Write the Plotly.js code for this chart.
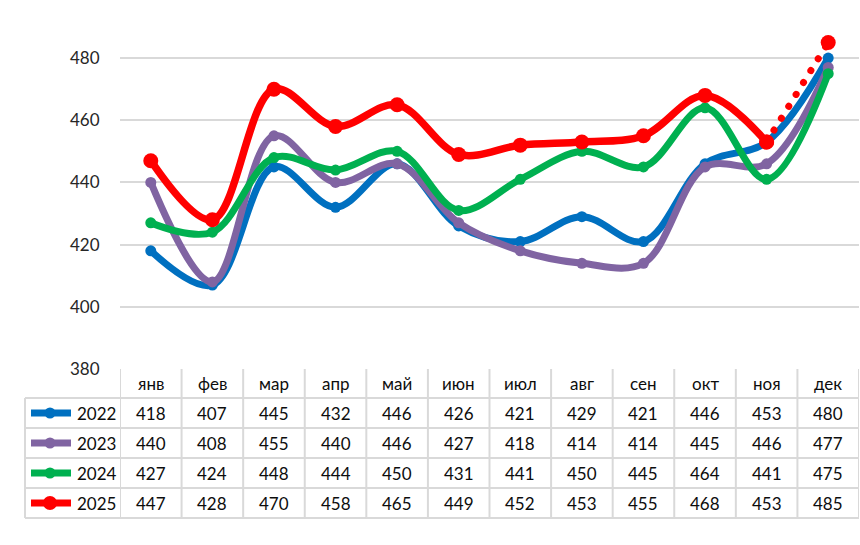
<!DOCTYPE html>
<html>
<head>
<meta charset="utf-8">
<script src="https://cdn.plot.ly/plotly-3.0.1.min.js"></script>
<style>html,body{margin:0;padding:0;background:#fff;}#chart{width:860px;height:545px;}</style>
</head>
<body>
<div id="chart"></div>
<script>
const months = ['янв','фев','мар','апр','май','июн','июл','авг','сен','окт','ноя','дек'];
const years = ['2022','2023','2024','2025'];
const v2022 = [418,407,445,432,446,426,421,429,421,446,453,480];
const v2023 = [440,408,455,440,446,427,418,414,414,445,446,477];
const v2024 = [427,424,448,444,450,431,441,450,445,464,441,475];
const v2025 = [447,428,470,458,465,449,452,453,455,468,453,485];
const seriesColors = ['#0070C0','#8064A2','#00B050','#FF0000'];
const yTicks = [380,400,420,440,460,480];

const allSeries = [v2022, v2023, v2024, v2025];

// plot geometry (pixels)
const W = 860, H = 545;
const mL = 120, mR = 1, mT = 27, mB = 176;
const plotH = H - mT - mB;
const plotW = W - mL - mR;
const bottomPx = H - mB;
const py = p => (bottomPx - p) / plotH;   // pixel y -> paper y
const px = p => (p - mL) / plotW;         // pixel x -> paper x

const traces = [];
for (let i = 0; i < 3; i++) {
  traces.push({
    x: months, y: allSeries[i], type: 'scatter', mode: 'lines+markers', name: years[i],
    line: {shape: 'spline', smoothing: 1, width: 7, color: seriesColors[i]},
    marker: {size: 11, color: seriesColors[i]}, hoverinfo: 'x+y'
  });
}
traces.push({
  x: months.slice(0, 11), y: v2025.slice(0, 11), type: 'scatter', mode: 'lines+markers', name: years[3],
  line: {shape: 'spline', smoothing: 1, width: 7.5, color: seriesColors[3]},
  marker: {size: 15, color: seriesColors[3]}
});
traces.push({
  x: months.slice(10), y: v2025.slice(10), type: 'scatter', mode: 'lines+markers', name: years[3] + ' прогноз',
  line: {width: 7, color: seriesColors[3], dash: '7px,7px'},
  marker: {size: 15, color: seriesColors[3]}
});

const gridC = '#d9d9d9';
const shapes = [];
const rowLines = [398, 428, 458, 488, 518];
rowLines.forEach(r => shapes.push({type: 'line', xref: 'paper', yref: 'paper',
  x0: px(25), x1: px(859), y0: py(r), y1: py(r), line: {color: gridC, width: 2}}));
shapes.push({type: 'line', xref: 'paper', yref: 'paper', x0: px(25), x1: px(25),
  y0: py(398), y1: py(518), line: {color: gridC, width: 2}});
for (let k = 0; k <= 12; k++) {
  shapes.push({type: 'line', xref: 'x', yref: 'paper', x0: k - 0.5, x1: k - 0.5,
    y0: py(369), y1: py(518), line: {color: gridC, width: 2}});
}

const annotations = [];
const fam = 'Lato, "Open Sans", sans-serif';
const tFont = {family: fam, size: 17, color: '#0d0d0d'};
months.forEach(m => annotations.push({xref: 'x', yref: 'paper', x: m, y: py(384),
  text: m, showarrow: false, font: tFont, xanchor: 'center', yanchor: 'middle'}));
const rowCenters = [413, 443, 473, 503];
allSeries.forEach((vals, i) => {
  vals.forEach((v, j) => annotations.push({xref: 'x', yref: 'paper', x: months[j], y: py(rowCenters[i]),
    text: String(v), showarrow: false, font: tFont, xanchor: 'center', yanchor: 'middle'}));
  annotations.push({xref: 'paper', yref: 'paper', x: px(75), y: py(rowCenters[i]),
    text: years[i], showarrow: false, font: tFont, xanchor: 'left', yanchor: 'middle'});
  shapes.push({type: 'line', xref: 'paper', yref: 'paper', x0: px(31), x1: px(71),
    y0: py(rowCenters[i]), y1: py(rowCenters[i]), line: {color: seriesColors[i], width: 7}});
  const r = i === 3 ? 7 : 5.5;
  shapes.push({type: 'circle', xref: 'paper', yref: 'paper', fillcolor: seriesColors[i],
    line: {width: 0}, x0: px(50 - r), x1: px(50 + r), y0: py(rowCenters[i] + r), y1: py(rowCenters[i] - r)});
});

const layout = {
  width: W, height: H,
  margin: {l: mL, r: mR, t: mT, b: mB},
  paper_bgcolor: '#fff', plot_bgcolor: '#fff',
  showlegend: false,
  font: {family: fam},
  xaxis: {type: 'category', range: [-0.5, 11.5], showgrid: false, showticklabels: false,
    zeroline: false, showline: false, ticks: '', fixedrange: true},
  yaxis: {range: [380, 490], tickvals: yTicks, ticktext: yTicks.map(String),
    showgrid: true, gridcolor: gridC, gridwidth: 2, zeroline: false, showline: false,
    ticks: 'outside', ticklen: 16, tickcolor: 'rgba(0,0,0,0)',
    tickfont: {family: fam, size: 17, color: '#262626'}},
  shapes: shapes,
  annotations: annotations
};

Plotly.newPlot('chart', traces, layout, {displayModeBar: false, staticPlot: true}).then(gd => {
  const tr = gd.querySelectorAll('.scatterlayer .trace');
  const last = tr[tr.length - 1];
  if (last) {
    last.querySelectorAll('path.js-line').forEach(p => {
      p.style.strokeLinecap = 'round';
      p.style.strokeDasharray = '0.1px,13.9px';
    });
  }
});
</script>
</body>
</html>
